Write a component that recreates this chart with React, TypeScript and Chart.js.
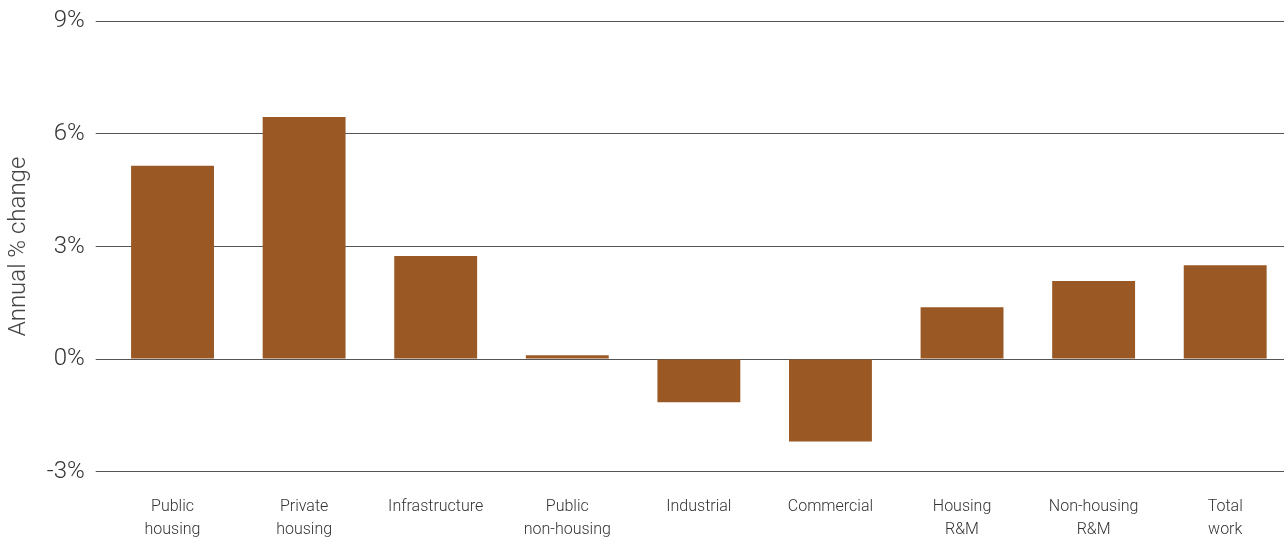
import React, { useEffect, useRef } from "react";
import { Chart, registerables } from "chart.js";

Chart.register(...registerables);

const categories: string[][] = [
  ["Public", "housing"],
  ["Private", "housing"],
  ["Infrastructure"],
  ["Public", "non-housing"],
  ["Industrial"],
  ["Commercial"],
  ["Housing", "R&M"],
  ["Non-housing", "R&M"],
  ["Total", "work"],
];
const values: number[] = [5.15, 6.45, 2.75, 0.1, -1.15, -2.2, 1.38, 2.08, 2.5];
const yTicks: number[] = [-3, 0, 3, 6, 9];

export default function App() {
  const ref = useRef<HTMLCanvasElement | null>(null);
  useEffect(() => {
    document.body.style.margin = "0";
    document.body.style.overflow = "hidden";
    const ctx = ref.current!;
    const chart = new Chart(ctx, {
      type: "bar",
      data: {
        labels: categories,
        datasets: [
          {
            data: values,
            backgroundColor: "#9a5924",
            barPercentage: 0.63,
            categoryPercentage: 1,
          },
        ],
      },
      options: {
        animation: false,
        responsive: true,
        maintainAspectRatio: false,
        layout: { padding: { left: 1, right: 1, top: 3, bottom: 0 } },
        plugins: { legend: { display: false }, tooltip: { enabled: false } },
        scales: {
          x: {
            grid: { display: false, drawTicks: false },
            border: { display: false },
            ticks: {
              color: "#333",
              font: { family: "Roboto", size: 16, weight: 300, lineHeight: 1.45 },
              padding: 24,
              maxRotation: 0,
              autoSkip: false,
            },
          },
          y: {
            min: -3,
            max: 9,
            afterBuildTicks: (axis: any) => {
              axis.ticks = yTicks.map((v) => ({ value: v }));
            },
            grid: { color: "#555", lineWidth: 1, tickLength: 11 },
            border: { display: false },
            ticks: {
              color: "#333",
              font: { family: "Roboto", size: 24, weight: 300 },
              padding: 11,
              callback: (v: any) => v + "%",
            },
            title: {
              display: true,
              text: "Annual % change",
              color: "#444",
              font: { family: "Roboto", size: 24, weight: 300 },
              padding: { top: 4, bottom: 2 },
            },
          },
        },
      },
    });
    return () => chart.destroy();
  }, []);
  return (
    <div style={{ width: 1292, height: 570, marginTop: -4, position: "relative" }}>
      <canvas ref={ref} />
    </div>
  );
}
